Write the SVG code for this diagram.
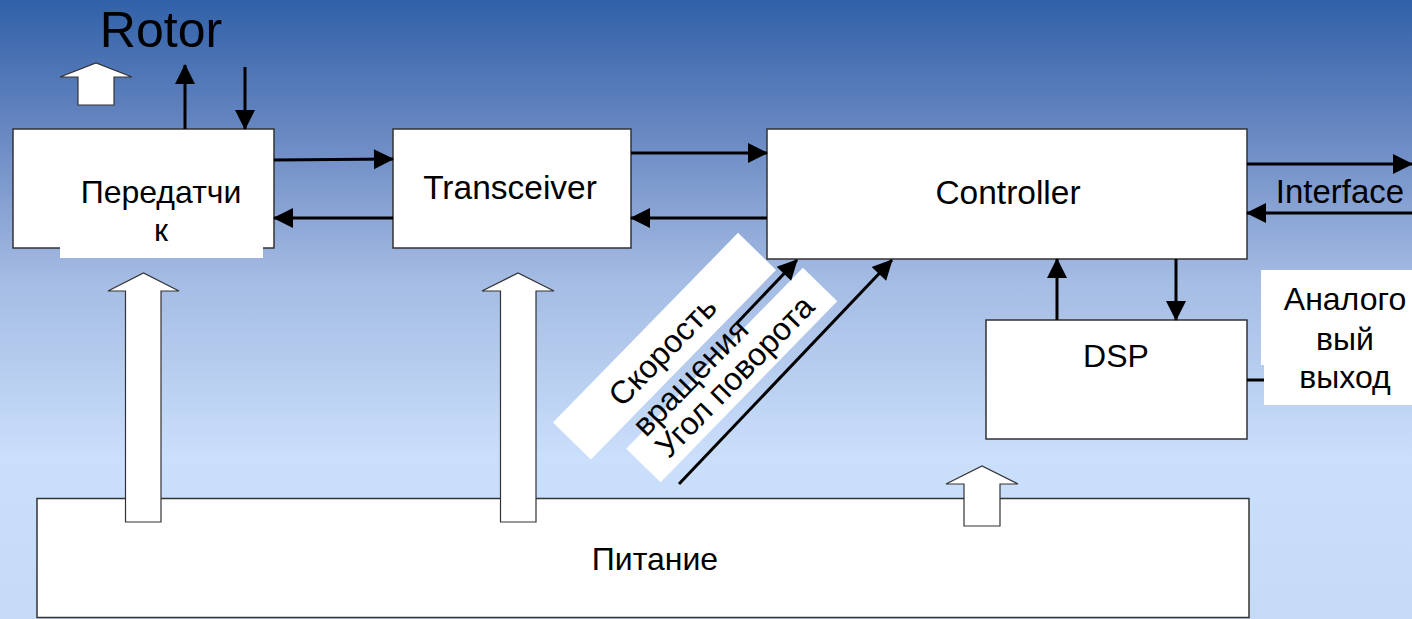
<svg xmlns="http://www.w3.org/2000/svg" width="1412" height="619" viewBox="0 0 1412 619">
  <defs>
    <linearGradient id="bg" x1="0" y1="0" x2="0" y2="619" gradientUnits="userSpaceOnUse">
      <stop offset="0" stop-color="#3161a8"/>
      <stop offset="0.2" stop-color="#6585c0"/>
      <stop offset="0.45" stop-color="#a4bbe3"/>
      <stop offset="0.74" stop-color="#cadffb"/>
      <stop offset="1" stop-color="#c5daf7"/>
    </linearGradient>
    <marker id="ah" markerUnits="userSpaceOnUse" markerWidth="20" markerHeight="20" refX="19" refY="10" orient="auto" overflow="visible">
      <path d="M0,0 L20,10 L0,20 Z" fill="#000"/>
    </marker>
    <style>
      .box { fill: #fff; stroke: #333; stroke-width: 1.5; }
      .lbl { font-family: "Liberation Sans", Arial, sans-serif; font-size: 32px; fill: #000; text-anchor: middle; }
      .lat { font-size: 33.5px; }
      .wire { stroke: #000; stroke-width: 3; fill: none; }
      .arr { marker-end: url(#ah); }
      .block { fill: #fff; stroke: #333; stroke-width: 1.2; }
      .pad { fill: #fff; stroke: none; }
    </style>
  </defs>

  <rect x="0" y="0" width="1412" height="619" fill="url(#bg)"/>

  <text x="161" y="47" class="lbl" style="font-size:50px">Rotor</text>

  <g id="node-power">
    <rect class="box" x="37" y="498.5" width="1212" height="119"/>
    <text x="655" y="570" class="lbl">Питание</text>
  </g>

  <g id="node-transmitter">
    <rect class="box" x="13" y="129" width="261" height="119"/>
    <rect class="pad" x="60" y="240" width="203" height="18"/>
    <text x="161" y="203" class="lbl">Передатчи</text>
    <text x="161" y="241" class="lbl">к</text>
  </g>

  <g id="node-transceiver">
    <rect class="box" x="393" y="129" width="238" height="119"/>
    <text x="510" y="199" class="lbl lat">Transceiver</text>
  </g>

  <g id="node-controller">
    <rect class="box" x="767" y="129" width="480" height="130"/>
    <text x="1008" y="204" class="lbl lat">Controller</text>
  </g>

  <g id="node-dsp">
    <rect class="box" x="986" y="320" width="261" height="119"/>
    <text x="1116" y="367" class="lbl">DSP</text>
  </g>

  <g id="node-analog">
    <rect class="pad" x="1261" y="270" width="151" height="95"/>
    <rect class="pad" x="1264" y="300" width="148" height="105"/>
    <text x="1345" y="310" class="lbl">Аналого</text>
    <text x="1345" y="350" class="lbl">вый</text>
    <text x="1345" y="388" class="lbl">выход</text>
  </g>

  <g id="node-interface-label">
    <text x="1340" y="203" class="lbl" style="font-size:33px">Interface</text>
  </g>

  <g id="node-angle">
    <g transform="translate(731.75,375) rotate(-45.7)">
      <rect class="pad" x="-126.5" y="-24" width="253" height="48"/>
    </g>
  </g>

  <g id="node-speed">
    <g transform="translate(663.75,345.5) rotate(-45.7)">
      <rect class="pad" x="-132.5" y="-25.5" width="265" height="53"/>
      <text x="-5" y="14" class="lbl">Скорость</text>
      <text x="-4" y="52" class="lbl">вращения</text>
    </g>
  </g>

  <g id="node-angle-text">
    <g transform="translate(731.75,375) rotate(-45.7)">
      <text x="1" y="14" class="lbl">Угол поворота</text>
    </g>
  </g>

  <g id="connectors">
    <line class="wire arr" x1="185" y1="129" x2="185" y2="65"/>
    <line class="wire arr" x1="245" y1="67" x2="245" y2="129"/>
    <line class="wire arr" x1="274" y1="160" x2="393" y2="159"/>
    <line class="wire arr" x1="393" y1="218" x2="274" y2="218"/>
    <line class="wire arr" x1="631" y1="153" x2="767" y2="153"/>
    <line class="wire arr" x1="767" y1="218" x2="631" y2="218"/>
    <line class="wire arr" x1="1247" y1="164" x2="1412" y2="164"/>
    <line class="wire arr" x1="1412" y1="213" x2="1247" y2="213"/>
    <line class="wire arr" x1="1057" y1="320" x2="1057" y2="259"/>
    <line class="wire arr" x1="1176" y1="259" x2="1176" y2="320"/>
    <line class="wire" x1="1247" y1="380" x2="1264" y2="380"/>
    <line class="wire arr" x1="737" y1="323" x2="797" y2="260"/>
    <line class="wire arr" x1="679" y1="484" x2="892" y2="260"/>

    <polygon class="block" points="78,105 78,77 60,77 96,63 132,77 114,77 114,105"/>
    <polygon class="block" points="125.5,522 125.5,291 108,291 143.5,273 179,291 161,291 161,522"/>
    <polygon class="block" points="500.5,522 500.5,291 482,291 518,273 554,291 536,291 536,522"/>
    <polygon class="block" points="964,526 964,484 946,484 982,466 1018,484 1000,484 1000,526"/>
  </g>
</svg>
